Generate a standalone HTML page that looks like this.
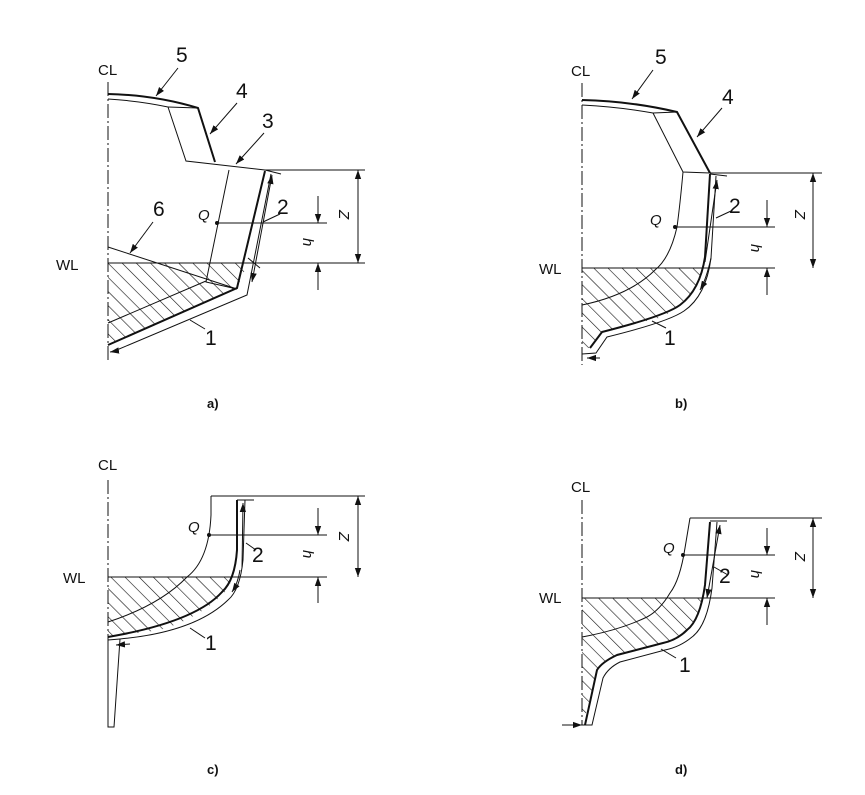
<!DOCTYPE html>
<html><head><meta charset="utf-8"><style>
html,body{margin:0;padding:0;background:#fff;}
svg{display:block;}
text{font-family:"Liberation Sans",sans-serif;fill:#111;}
.n{font-size:21px;}
.s{font-size:15px;}
.c{font-size:13px;font-weight:bold;}
.i{font-size:15px;font-style:italic;}
</style></head><body>
<svg width="865" height="795" viewBox="0 0 865 795" xmlns="http://www.w3.org/2000/svg">
<defs>
<pattern id="h" patternUnits="userSpaceOnUse" width="10" height="10" patternTransform="rotate(-45)">
<line x1="0" y1="0" x2="0" y2="10" stroke="#111" stroke-width="1.2"/>
</pattern>
<marker id="a" viewBox="0 0 10 10" refX="10" refY="5" markerWidth="9" markerHeight="9" orient="auto-start-reverse" markerUnits="userSpaceOnUse">
<path d="M0,1.5 L10,5 L0,8.5 z" fill="#111"/>
</marker>
</defs>
<g fill="none" stroke="#111" stroke-width="1">

<!-- ===== a) ===== -->
<path d="M108,263 L248,263 L237,288 L108,345 Z" fill="url(#h)" stroke="none"/>
<line x1="108" y1="82" x2="108" y2="360" stroke-dasharray="14,3,2,3"/>
<path d="M108,94 Q155,95 198,108 L215,162"  stroke-width="2"/>
<path d="M108,99 Q140,101 168,107 L186,161 L265,170"/>
<line x1="198" y1="108" x2="168" y2="107"/>
<line x1="265" y1="170" x2="281" y2="174"/>
<path d="M265,171 L237,288 L108,345" stroke-width="2"/>
<path d="M271,174 L247,295 L112,352"/>
<path d="M229,170 L206,282 L237,289"/>
<line x1="108" y1="247" x2="237" y2="289"/>
<line x1="108" y1="323" x2="206" y2="281"/>
<line x1="108" y1="263" x2="365" y2="263"/>
<line x1="265" y1="170" x2="365" y2="170"/>
<line x1="248" y1="258" x2="260" y2="268"/>
<circle cx="217" cy="223" r="1.5" fill="#111"/>
<line x1="217" y1="223" x2="327" y2="223"/>
<line x1="318" y1="196" x2="318" y2="223" marker-end="url(#a)"/>
<line x1="318" y1="290" x2="318" y2="263" marker-end="url(#a)"/>
<line x1="358" y1="170" x2="358" y2="263" marker-start="url(#a)" marker-end="url(#a)"/>
<line x1="272" y1="175" x2="252" y2="282" marker-start="url(#a)" marker-end="url(#a)"/>
<line x1="116" y1="351" x2="110" y2="352" marker-end="url(#a)"/>
<line x1="178" y1="68" x2="156" y2="96" marker-end="url(#a)"/>
<line x1="237" y1="103" x2="210" y2="134" marker-end="url(#a)"/>
<line x1="264" y1="133" x2="236" y2="164" marker-end="url(#a)"/>
<line x1="153" y1="222" x2="130" y2="253" marker-end="url(#a)"/>
<line x1="280" y1="214" x2="263" y2="222"/>
<line x1="190" y1="320" x2="205" y2="329"/>

<!-- ===== b) ===== -->
<path d="M582,268 L705,268 L687,300 L663,317 L602,332 L590,348 L582,348 Z" fill="url(#h)" stroke="none"/>
<line x1="582" y1="83" x2="582" y2="365" stroke-dasharray="14,3,2,3"/>
<path d="M582,100 Q630,101 677,112 L710,173" stroke-width="2"/>
<path d="M582,105 Q620,107 653,113 L683,172 L710,173"/>
<line x1="677" y1="112" x2="653" y2="113"/>
<line x1="710" y1="174" x2="727" y2="176"/>
<path d="M710,174 L705,257 Q700,290 680,305 Q665,316 602,332 L590,348" stroke-width="2"/>
<path d="M716,176 L711,258 Q706,296 684,311 Q668,322 607,337 L596,353 L582,354"/>
<path d="M683,172 Q680,205 677,227 Q670,258 655,270 Q630,295 582,305"/>
<line x1="582" y1="268" x2="775" y2="268"/>
<line x1="710" y1="173" x2="822" y2="173"/>
<circle cx="675" cy="227" r="1.5" fill="#111"/>
<line x1="675" y1="227" x2="775" y2="227"/>
<line x1="767" y1="200" x2="767" y2="227" marker-end="url(#a)"/>
<line x1="767" y1="295" x2="767" y2="268" marker-end="url(#a)"/>
<line x1="813" y1="173" x2="813" y2="268" marker-start="url(#a)" marker-end="url(#a)"/>
<line x1="717" y1="180" x2="705" y2="262" marker-start="url(#a)"/>
<path d="M711,258 Q706,280 700,290" marker-end="url(#a)"/>
<line x1="600" y1="358" x2="587" y2="358" marker-end="url(#a)"/>
<line x1="653" y1="70" x2="632" y2="99" marker-end="url(#a)"/>
<line x1="722" y1="108" x2="697" y2="137" marker-end="url(#a)"/>
<line x1="731" y1="211" x2="716" y2="218"/>
<line x1="652" y1="321" x2="666" y2="328"/>

<!-- ===== c) ===== -->
<path d="M108,577 L234,577 L225,592 Q200,618 160,630 L108,637 Z" fill="url(#h)" stroke="none"/>
<line x1="108" y1="480" x2="108" y2="645" stroke-dasharray="14,3,2,3"/>
<line x1="211" y1="496" x2="365" y2="496"/>
<path d="M211,496 L211,515 Q209,560 187,577 Q160,605 108,622"/>
<path d="M237,500 L237,550 Q235,580 222,592 Q195,622 108,637" stroke-width="2"/>
<path d="M245,500 L243,560 Q240,590 228,600 Q195,632 120,639 L108,640"/>
<line x1="237" y1="500" x2="254" y2="500"/>
<path d="M108,645 L108,727 L114,727 L120,639"/>
<line x1="108" y1="577" x2="327" y2="577"/>
<circle cx="209" cy="535" r="1.5" fill="#111"/>
<line x1="209" y1="535" x2="327" y2="535"/>
<line x1="318" y1="508" x2="318" y2="535" marker-end="url(#a)"/>
<line x1="318" y1="603" x2="318" y2="577" marker-end="url(#a)"/>
<line x1="358" y1="496" x2="358" y2="577" marker-start="url(#a)" marker-end="url(#a)"/>
<line x1="243" y1="503" x2="242" y2="568" marker-start="url(#a)"/>
<path d="M240,570 Q238,583 232,592" marker-end="url(#a)"/>
<line x1="130" y1="644" x2="116" y2="645" marker-end="url(#a)"/>
<line x1="256" y1="550" x2="246" y2="543"/>
<line x1="190" y1="628" x2="205" y2="638"/>

<!-- ===== d) ===== -->
<path d="M582,598 L703,598 Q697,625 687,630 Q675,640 663,643 L617,655 Q600,662 597,670 L585,717 L582,717 Z" fill="url(#h)" stroke="none"/>
<line x1="582" y1="500" x2="582" y2="725" stroke-dasharray="14,3,2,3"/>
<line x1="690" y1="518" x2="822" y2="518"/>
<path d="M690,518 L685,548 Q680,580 670,593 Q660,610 647,617 Q620,630 582,637"/>
<path d="M710,522 L705,585 Q700,620 687,630 Q677,640 663,643 L617,655 Q602,662 597,670 L585,725" stroke-width="2"/>
<path d="M717,522 L712,588 Q707,626 692,637 Q680,647 665,650 L620,662 Q608,668 603,678 L592,725 L582,725"/>
<line x1="710" y1="521" x2="727" y2="521"/>
<line x1="582" y1="598" x2="775" y2="598"/>
<circle cx="683" cy="555" r="1.5" fill="#111"/>
<line x1="683" y1="555" x2="775" y2="555"/>
<line x1="767" y1="528" x2="767" y2="555" marker-end="url(#a)"/>
<line x1="767" y1="625" x2="767" y2="598" marker-end="url(#a)"/>
<line x1="813" y1="518" x2="813" y2="598" marker-start="url(#a)" marker-end="url(#a)"/>
<line x1="720" y1="525" x2="707" y2="598" marker-start="url(#a)" marker-end="url(#a)"/>
<line x1="562" y1="725" x2="582" y2="725" marker-end="url(#a)"/>
<line x1="728" y1="575" x2="714" y2="567"/>
<line x1="661" y1="649" x2="676" y2="658"/>
</g>

<!-- labels a -->
<text x="98" y="75" class="s">CL</text>
<text x="56" y="270" class="s">WL</text>
<text x="176" y="62" class="n">5</text>
<text x="236" y="98" class="n">4</text>
<text x="262" y="128" class="n">3</text>
<text x="153" y="216" class="n">6</text>
<text x="277" y="214" class="n">2</text>
<text x="205" y="345" class="n">1</text>
<text x="198" y="220" class="i">Q</text>
<text x="0" y="0" class="i" transform="translate(339,210) rotate(90)">Z</text>
<text x="0" y="0" class="i" transform="translate(303,238) rotate(90)">h</text>
<text x="207" y="408" class="c">a)</text>

<!-- labels b -->
<text x="571" y="76" class="s">CL</text>
<text x="539" y="274" class="s">WL</text>
<text x="655" y="64" class="n">5</text>
<text x="722" y="104" class="n">4</text>
<text x="729" y="213" class="n">2</text>
<text x="664" y="345" class="n">1</text>
<text x="650" y="225" class="i">Q</text>
<text x="0" y="0" class="i" transform="translate(795,210) rotate(90)">Z</text>
<text x="0" y="0" class="i" transform="translate(751,244) rotate(90)">h</text>
<text x="675" y="408" class="c">b)</text>

<!-- labels c -->
<text x="98" y="470" class="s">CL</text>
<text x="63" y="583" class="s">WL</text>
<text x="252" y="562" class="n">2</text>
<text x="205" y="650" class="n">1</text>
<text x="188" y="532" class="i">Q</text>
<text x="0" y="0" class="i" transform="translate(339,532) rotate(90)">Z</text>
<text x="0" y="0" class="i" transform="translate(303,550) rotate(90)">h</text>
<text x="207" y="774" class="c">c)</text>

<!-- labels d -->
<text x="571" y="492" class="s">CL</text>
<text x="539" y="603" class="s">WL</text>
<text x="719" y="583" class="n">2</text>
<text x="679" y="672" class="n">1</text>
<text x="663" y="553" class="i">Q</text>
<text x="0" y="0" class="i" transform="translate(795,552) rotate(90)">Z</text>
<text x="0" y="0" class="i" transform="translate(751,570) rotate(90)">h</text>
<text x="675" y="774" class="c">d)</text>
</svg>
</body></html>
